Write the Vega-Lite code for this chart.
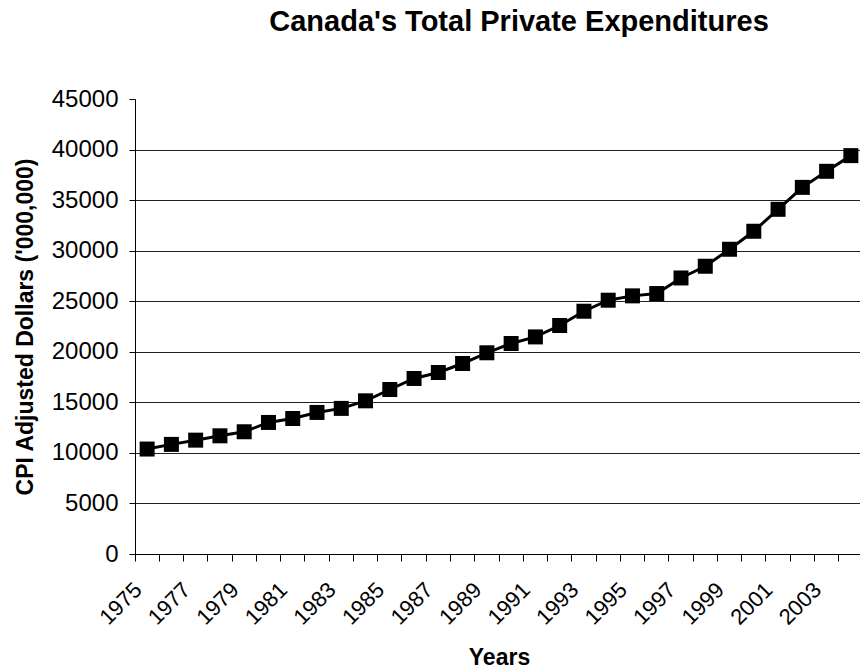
{
  "$schema": "https://vega.github.io/schema/vega-lite/v6.json",
  "autosize": {"type": "none"},
  "padding": {"left": 135, "top": 99, "right": 0, "bottom": 118},
  "width": 728,
  "height": 455,
  "background": "white",
  "title": {
    "text": "Canada's Total Private Expenditures",
    "font": "Liberation Sans",
    "fontSize": 29,
    "fontWeight": "bold",
    "color": "#000",
    "anchor": "middle",
    "baseline": "alphabetic",
    "offset": 27,
    "dx": 20
  },
  "data": {
    "values": [
      {"year": 1975, "value": 10380},
      {"year": 1976, "value": 10840},
      {"year": 1977, "value": 11260},
      {"year": 1978, "value": 11690},
      {"year": 1979, "value": 12090},
      {"year": 1980, "value": 13010},
      {"year": 1981, "value": 13400},
      {"year": 1982, "value": 14000},
      {"year": 1983, "value": 14400},
      {"year": 1984, "value": 15150},
      {"year": 1985, "value": 16270},
      {"year": 1986, "value": 17360},
      {"year": 1987, "value": 17950},
      {"year": 1988, "value": 18840},
      {"year": 1989, "value": 19900},
      {"year": 1990, "value": 20820},
      {"year": 1991, "value": 21470},
      {"year": 1992, "value": 22600},
      {"year": 1993, "value": 24010},
      {"year": 1994, "value": 25100},
      {"year": 1995, "value": 25530},
      {"year": 1996, "value": 25760},
      {"year": 1997, "value": 27300},
      {"year": 1998, "value": 28460},
      {"year": 1999, "value": 30140},
      {"year": 2000, "value": 31920},
      {"year": 2001, "value": 34090},
      {"year": 2002, "value": 36260},
      {"year": 2003, "value": 37850},
      {"year": 2004, "value": 39400}
    ]
  },
  "encoding": {
    "x": {
      "field": "year",
      "type": "ordinal",
      "scale": {"type": "band", "paddingInner": 0, "paddingOuter": 0},
      "axis": {
        "title": "Years",
        "titleFont": "Liberation Sans",
        "titleFontSize": 23,
        "titleFontWeight": "bold",
        "titleColor": "#000",
        "titlePadding": 18,
        "bandPosition": 0,
        "labelAngle": -45,
        "labelAlign": "right",
        "labelBaseline": "middle",
        "labelFont": "Liberation Sans",
        "labelFontSize": 22,
        "labelColor": "#000",
        "labelPadding": 25,
        "labelOffset": -9,
        "labelOverlap": false,
        "labelExpr": "datum.value % 2 == 1 ? datum.label : ''",
        "tickSize": 7,
        "tickColor": "#000",
        "domainColor": "#000",
        "grid": false
      }
    },
    "y": {
      "field": "value",
      "type": "quantitative",
      "scale": {"domain": [0, 45000], "nice": false},
      "axis": {
        "title": "CPI Adjusted Dollars ('000,000)",
        "titleFont": "Liberation Sans",
        "titleFontSize": 23,
        "titleFontWeight": "bold",
        "titleColor": "#000",
        "titlePadding": 14,
        "values": [0, 5000, 10000, 15000, 20000, 25000, 30000, 35000, 40000, 45000],
        "format": "d",
        "labelFont": "Liberation Sans",
        "labelFontSize": 24,
        "labelColor": "#000",
        "labelPadding": 11,
        "tickSize": 6,
        "tickColor": "#000",
        "domainColor": "#000",
        "grid": true,
        "gridColor": "#222",
        "gridWidth": 1,
        "gridOpacity": {"condition": {"test": "datum.value == 45000 || datum.value == 0", "value": 0}, "value": 1}
      }
    }
  },
  "layer": [
    {"mark": {"type": "line", "color": "#000", "strokeWidth": 3}},
    {"mark": {"type": "point", "shape": "square", "filled": true, "size": 225, "color": "#000", "opacity": 1}}
  ],
  "config": {"view": {"stroke": null}}
}
